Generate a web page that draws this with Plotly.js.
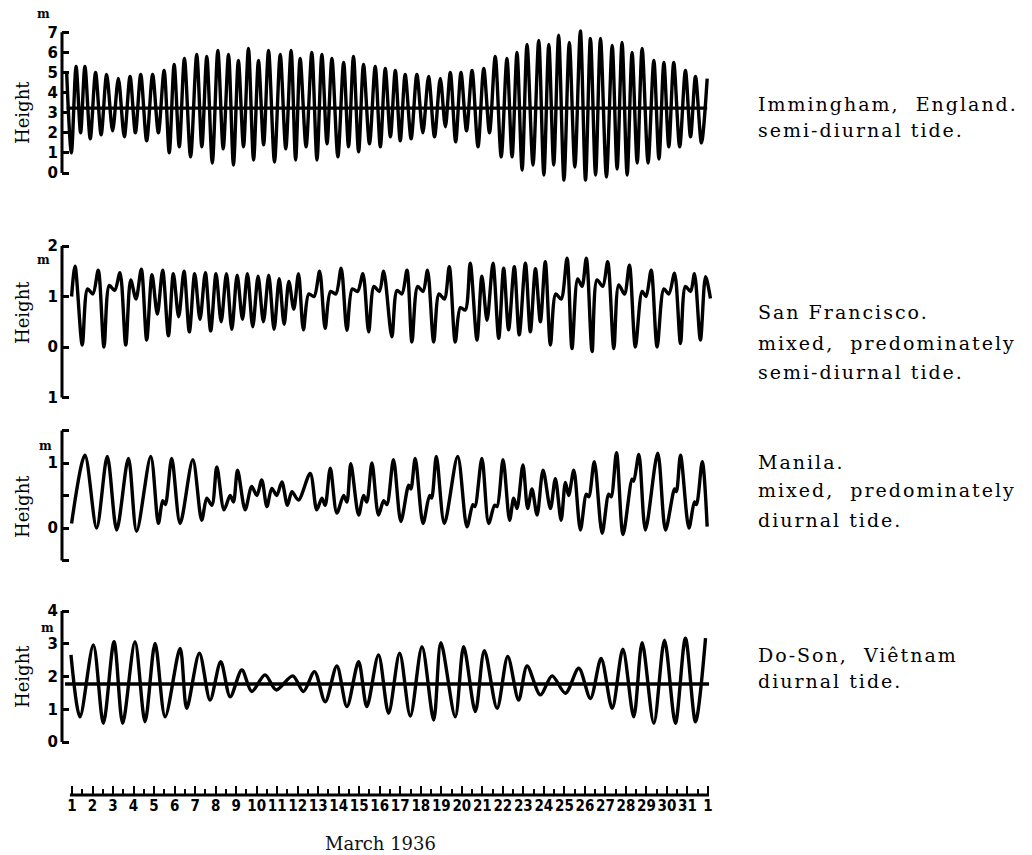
<!DOCTYPE html>
<html>
<head>
<meta charset="utf-8">
<script src="https://cdn.plot.ly/plotly-3.0.1.min.js"></script>
<style>
html,body{margin:0;padding:0;background:#fff}
#chart{width:1032px;height:855px}
</style>
</head>
<body>
<div id="chart"></div>
<script>
// ---- Data ----
// time in days of March 1936 (32 = 1 April), height in metres, at successive highs and lows
const dayTicks  = [1,2,3,4,5,6,7,8,9,10,11,12,13,14,15,16,17,18,19,20,21,22,23,24,25,26,27,28,29,30,31,32];
const dayLabels = ["1","2","3","4","5","6","7","8","9","10","11","12","13","14","15","16","17","18","19","20","21","22","23","24","25","26","27","28","29","30","31","1"];

const immT = [0.74,0.97,1.20,1.42,1.63,1.89,2.15,2.42,2.69,2.98,3.26,3.55,3.83,4.09,4.35,4.64,4.93,5.21,5.49,5.74,5.98,6.23,6.48,6.78,7.08,7.33,7.57,7.84,8.11,8.37,8.63,8.87,9.11,9.36,9.60,9.85,10.09,10.34,10.58,10.87,11.15,11.42,11.68,11.90,12.12,12.41,12.69,12.94,13.18,13.43,13.67,13.96,14.24,14.48,14.72,14.97,15.21,15.50,15.78,16.03,16.27,16.52,16.76,17.00,17.24,17.53,17.81,18.10,18.38,18.67,18.95,19.20,19.44,19.70,19.96,20.23,20.50,20.79,21.07,21.35,21.63,21.92,22.20,22.45,22.69,22.94,23.18,23.47,23.75,24.00,24.24,24.48,24.72,24.98,25.24,25.51,25.78,26.03,26.27,26.52,26.76,27.05,27.33,27.57,27.81,28.06,28.30,28.55,28.79,29.08,29.36,29.61,29.85,30.09,30.33,30.62,30.90,31.15,31.39,31.68,31.96];
const immH = [5.0,1.0,5.3,2.0,5.3,1.7,5.0,1.9,4.9,2.1,4.7,1.8,4.8,2.0,4.9,1.6,4.9,2.0,5.1,1.0,5.4,1.3,5.7,0.8,5.9,1.3,5.8,0.5,6.1,1.2,5.9,0.4,5.6,1.3,6.2,0.65,5.6,1.4,6.1,0.55,5.9,1.2,6.1,0.65,5.7,1.3,6.0,0.65,5.9,1.45,5.7,0.8,5.5,1.3,5.8,1.05,5.4,1.45,5.3,1.3,5.2,1.8,5.1,1.6,4.9,1.7,4.9,2.0,4.8,1.8,4.7,2.3,5.0,1.55,5.0,2.1,5.1,1.3,5.2,2.0,5.8,0.8,5.7,0.8,6.0,0.15,6.4,0.4,6.6,-0.1,6.4,0.4,6.85,-0.35,6.5,0.3,7.07,-0.35,6.7,-0.1,6.7,-0.2,6.35,0.2,6.5,-0.1,6.0,0.5,6.2,0.5,5.6,0.7,5.5,1.3,5.5,1.3,5.1,1.8,4.8,1.5,4.7];
const immMean = 3.23;

const sfT = [0.98,1.15,1.50,1.76,2.02,2.28,2.56,2.82,3.08,3.34,3.62,3.86,4.12,4.38,4.64,4.90,5.16,5.42,5.70,5.94,6.20,6.46,6.72,6.98,7.24,7.50,7.76,8.02,8.27,8.53,8.79,9.05,9.31,9.55,9.81,10.07,10.33,10.59,10.85,11.10,11.34,11.57,11.81,12.04,12.28,12.54,12.80,13.07,13.34,13.60,13.86,14.12,14.40,14.66,14.92,15.18,15.46,15.72,15.98,16.19,16.59,16.84,17.08,17.33,17.57,17.85,18.11,18.33,18.63,18.89,19.15,19.39,19.68,19.93,20.17,20.41,20.74,20.98,21.23,21.52,21.80,22.04,22.28,22.56,22.80,23.10,23.34,23.59,23.83,24.07,24.32,24.58,24.84,25.13,25.37,25.65,25.86,26.07,26.35,26.59,26.87,27.11,27.41,27.65,27.93,28.17,28.46,28.79,28.98,29.23,29.52,29.85,30.09,30.37,30.66,30.90,31.15,31.34,31.63,31.88,32.12];
const sfH = [1.0,1.6,0.04,1.15,1.05,1.52,0.0,1.22,1.12,1.47,0.04,1.33,0.95,1.54,0.14,1.43,0.65,1.52,0.22,1.45,0.6,1.5,0.3,1.45,0.55,1.47,0.32,1.45,0.5,1.45,0.35,1.42,0.55,1.45,0.4,1.4,0.5,1.42,0.35,1.35,0.45,1.3,0.75,1.45,0.34,1.05,1.0,1.5,0.37,1.1,1.05,1.56,0.33,1.15,1.1,1.45,0.3,1.2,1.1,1.5,0.2,1.12,1.05,1.52,0.1,1.2,1.1,1.52,0.1,1.05,0.95,1.59,0.1,0.78,0.73,1.66,0.14,1.4,0.53,1.66,0.17,1.56,0.34,1.59,0.24,1.66,0.3,1.55,0.5,1.69,0.04,1.05,0.95,1.76,-0.03,1.35,1.2,1.76,-0.09,1.33,1.2,1.69,-0.03,1.23,1.05,1.62,0.0,1.1,1.0,1.52,0.0,1.15,1.05,1.46,0.07,1.2,1.1,1.45,0.14,1.39,0.96];

const mnT = [0.98,1.63,2.20,2.72,3.18,3.75,4.15,4.84,5.21,5.42,5.55,5.86,6.27,6.89,7.32,7.57,7.82,8.06,8.41,8.71,8.87,9.07,9.44,9.76,10.01,10.25,10.50,10.74,10.98,11.23,11.50,11.72,12.04,12.61,12.93,13.18,13.34,13.59,13.91,14.24,14.40,14.59,14.97,15.21,15.37,15.62,15.94,16.19,16.35,16.67,17.03,17.41,17.52,17.73,18.11,18.43,18.53,18.76,19.15,19.80,20.25,20.54,20.64,20.98,21.31,21.60,21.72,22.01,22.33,22.53,22.69,22.98,23.21,23.42,23.67,23.96,24.32,24.56,24.84,25.05,25.21,25.46,25.78,26.07,26.19,26.46,26.84,27.16,27.28,27.54,27.86,28.30,28.38,28.63,28.95,29.55,29.93,30.37,30.46,30.66,31.07,31.34,31.44,31.72,31.96];
const mnH = [0.07,1.12,0.0,1.1,-0.03,1.07,-0.05,1.1,0.07,0.42,0.36,1.07,0.07,1.05,0.12,0.46,0.35,0.94,0.28,0.5,0.4,0.89,0.28,0.64,0.5,0.74,0.33,0.61,0.5,0.71,0.35,0.56,0.43,0.84,0.28,0.46,0.35,0.92,0.23,0.5,0.4,0.99,0.2,0.5,0.4,1.0,0.2,0.42,0.36,1.05,0.1,0.66,0.6,1.07,0.07,0.5,0.46,1.1,0.07,1.1,0.02,0.36,0.33,1.07,0.07,0.35,0.33,1.05,0.12,0.46,0.3,0.97,0.3,0.6,0.2,0.89,0.3,0.76,0.12,0.7,0.5,0.89,-0.03,0.52,0.48,1.02,-0.08,0.52,0.48,1.16,-0.1,0.75,0.72,1.13,-0.03,1.15,-0.03,0.6,0.56,1.12,0.0,0.4,0.36,1.02,0.02];

const dsT = [0.95,1.39,2.04,2.53,3.05,3.47,4.07,4.56,5.05,5.54,6.27,6.59,7.21,7.73,8.25,8.71,9.28,9.76,10.41,10.95,11.76,12.28,12.82,13.34,13.91,14.40,14.97,15.37,15.94,16.43,16.97,17.49,18.06,18.63,18.98,19.68,20.09,20.66,21.10,21.72,22.24,22.77,23.18,23.83,24.40,25.05,25.70,26.27,26.79,27.33,27.85,28.38,28.79,29.36,29.88,30.41,30.90,31.39,31.88];
const dsH = [2.66,0.77,2.96,0.57,3.06,0.57,3.06,0.62,3.01,0.77,2.86,1.03,2.71,1.28,2.45,1.38,2.2,1.54,2.05,1.59,2.02,1.54,2.15,1.23,2.32,1.08,2.45,1.08,2.66,0.88,2.71,0.79,2.91,0.67,3.03,0.77,2.91,0.93,2.79,1.03,2.61,1.28,2.32,1.44,2.02,1.49,2.25,1.33,2.55,1.03,2.83,0.77,3.03,0.57,3.11,0.57,3.17,0.62,3.17];
const dsMean = 1.77;

const stationLines = [
  ["Immingham,  England.", "semi-diurnal tide."],
  ["San Francisco.", "mixed,  predominately", "semi-diurnal tide."],
  ["Manila.", "mixed,  predominately", "diurnal tide."],
  ["Do-Son,  Viêtnam", "diurnal tide."]
];

// ---- Layout helpers ----
const W = 1032, H = 855;
const px = v => v / W;
const py = v => (H - v) / H;
const xDom = [px(62), px(712)];
const descLeft = 758;
const tickFont = {family: "DejaVu Sans, sans-serif", size: 15, color: "#000", weight: "bold"};
const serif = {family: "DejaVu Serif, serif", size: 18, color: "#000"};
const descFont = {family: "DejaVu Serif, serif", size: 19, color: "#000"};
const curve = {color: "#000", width: 3.4, shape: "spline", smoothing: 0.85};

const traces = [
  {x: immT, y: immH, yaxis: "y",  mode: "lines", line: curve, hoverinfo: "skip"},
  {x: [immT[0], immT[immT.length-1]], y: [immMean, immMean], yaxis: "y", mode: "lines", line: {color: "#000", width: 3.4}, hoverinfo: "skip"},
  {x: sfT,  y: sfH,  yaxis: "y2", mode: "lines", line: curve, hoverinfo: "skip"},
  {x: mnT,  y: mnH,  yaxis: "y3", mode: "lines", line: curve, hoverinfo: "skip"},
  {x: dsT,  y: dsH,  yaxis: "y4", mode: "lines", line: curve, hoverinfo: "skip"},
  {x: [0.66, 32.05], y: [dsMean, dsMean], yaxis: "y4", mode: "lines", line: {color: "#000", width: 3.4}, hoverinfo: "skip"}
];

function yax(dom, range, vals, text) {
  return {
    domain: dom, range: range, anchor: "x",
    showline: false, showgrid: false, zeroline: false,
    tickmode: "array", tickvals: vals, ticktext: text,
    ticks: "inside", ticklen: 7, tickwidth: 3, tickcolor: "#000",
    tickfont: tickFont, ticklabelstandoff: 3, fixedrange: true
  };
}

const minorVals = dayTicks.slice(0, -1).map(d => d + 0.5);
const axisY = 795;

const layout = {
  width: W, height: H,
  margin: {l: 0, r: 0, t: 0, b: 0},
  paper_bgcolor: "#fff", plot_bgcolor: "rgba(0,0,0,0)",
  showlegend: false,
  xaxis: {
    domain: xDom, range: [0.513, 32.195], anchor: "free", position: py(axisY),
    showline: false, showgrid: false, zeroline: false,
    tickmode: "array", tickvals: dayTicks, ticktext: dayLabels,
    ticks: "inside", ticklen: 9, tickwidth: 2, tickcolor: "#000",
    tickfont: {family: "Liberation Sans Narrow, DejaVu Sans Condensed, sans-serif", size: 15, color: "#000", weight: "bold"},
    tickangle: 0, ticklabelstandoff: 0,
    minor: {tickmode: "array", tickvals: minorVals, ticks: "inside", ticklen: 6, tickwidth: 2, tickcolor: "#000", showgrid: false},
    fixedrange: true
  },
  yaxis:  yax([py(187.07), py(26.27)], [-0.7, 7.3], [0,1,2,3,4,5,6,7], ["0","1","2","3","4","5","6","7"]),
  yaxis2: yax([py(402.55), py(240.95)], [-1.1, 2.1], [-1,0,1,2], ["1","0","1","2"]),
  yaxis3: yax([py(567), py(424)], [-0.6, 1.6], [-0.5,0,0.5,1,1.5], ["","0","","1",""]),
  yaxis4: yax([py(748.55), py(604.45)], [-0.2, 4.2], [0,1,2,3,4], ["0","1","2","3","4"]),
  shapes: [
    {type: "line", xref: "paper", yref: "y",  x0: xDom[0], x1: xDom[0], y0: 0, y1: 7, line: {color: "#000", width: 3}},
    {type: "line", xref: "paper", yref: "y2", x0: xDom[0], x1: xDom[0], y0: -1, y1: 2, line: {color: "#000", width: 3}},
    {type: "line", xref: "paper", yref: "y3", x0: xDom[0], x1: xDom[0], y0: -0.5, y1: 1.5, line: {color: "#000", width: 3}},
    {type: "line", xref: "paper", yref: "y4", x0: xDom[0], x1: xDom[0], y0: 0, y1: 4, line: {color: "#000", width: 3}},
    {type: "line", xref: "x", yref: "paper", x0: dayTicks[0] - 0.1, x1: dayTicks[dayTicks.length-1] + 0.05, y0: py(axisY), y1: py(axisY), line: {color: "#000", width: 3}}
  ],
  annotations: []
};

// "Height" labels
[113, 313, 507, 677].forEach(yc => layout.annotations.push({
  xref: "paper", yref: "paper", x: px(22), y: py(yc), text: "Height", textangle: -90,
  showarrow: false, font: serif, xanchor: "center", yanchor: "middle"
}));
// unit marks "m"
[[43, 14], [43, 260], [45, 446], [47, 628]].forEach(p => layout.annotations.push({
  xref: "paper", yref: "paper", x: px(p[0]), y: py(p[1]), text: "<b>m</b>",
  showarrow: false, font: {family: "DejaVu Serif, serif", size: 12, color: "#000"}, xanchor: "center", yanchor: "middle"
}));
// station descriptions
const linePos = [[104, 130], [312, 343, 372], [462, 490, 520], [655, 681]];
stationLines.forEach((lines, i) => lines.forEach((t, j) => layout.annotations.push({
  xref: "paper", yref: "paper", x: px(descLeft), y: py(linePos[i][j]), text: t,
  showarrow: false, font: descFont, xanchor: "left", yanchor: "middle"
})));
// x-axis caption
layout.annotations.push({
  xref: "paper", yref: "paper", x: px(380), y: py(843), text: "March 1936",
  showarrow: false, font: {family: "DejaVu Serif, serif", size: 18, color: "#111"}, xanchor: "center", yanchor: "middle"
});

Plotly.newPlot("chart", traces, layout, {staticPlot: true, displayModeBar: false}).then(gd => {
  // widen the letter spacing of the station descriptions, like the typewritten original,
  // then re-align each line so that it starts at the common left edge
  const origin = gd.getBoundingClientRect().left;
  gd.querySelectorAll(".annotation-text").forEach(t => {
    const s = t.textContent;
    if (!stationLines.some(ls => ls.includes(s))) return;
    t.setAttribute("letter-spacing", "2");
    const left = t.getBoundingClientRect().left - origin;
    const x0 = parseFloat(t.getAttribute("x")) || 0;
    t.setAttribute("x", x0 + (descLeft - left));
  });
});
</script>
</body>
</html>
